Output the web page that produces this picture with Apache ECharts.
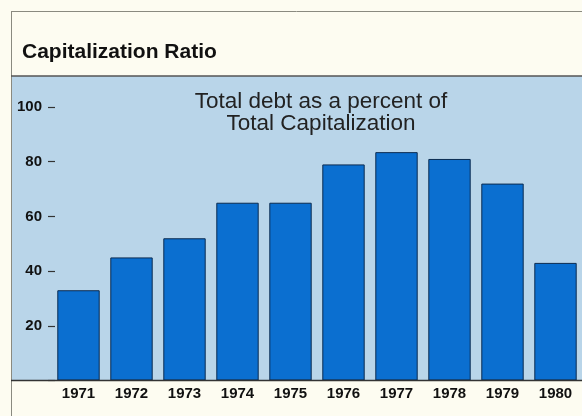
<!DOCTYPE html>
<html>
<head>
<meta charset="utf-8">
<script src="https://cdn.jsdelivr.net/npm/echarts@6/dist/echarts.min.js"></script>
<style>
  html, body { margin: 0; padding: 0; background: #fdfcf1; }
  #chart { width: 582px; height: 416px; }
</style>
</head>
<body>
<div id="chart"></div>
<script>
// Debt as a share of total capitalization, by year
const years = ['1971', '1972', '1973', '1974', '1975', '1976', '1977', '1978', '1979', '1980'];
const debtPercent = [33, 45, 52, 65, 65, 79, 83.5, 81, 72, 43];
const yTicks = [0, 20, 40, 60, 80, 100];

const FONT = '"Liberation Sans", Arial, sans-serif';
const chart = echarts.init(document.getElementById('chart'));

chart.setOption({
  backgroundColor: '#fdfcf1',
  animation: false,
  graphic: [
    // light blue panel behind the bars
    { type: 'rect', z: -10, shape: { x: 12, y: 76, width: 571, height: 304 },
      style: { fill: '#b9d5e9' } },
    // frame lines
    { type: 'line', z: 10, shape: { x1: 11, y1: 11.5, x2: 582, y2: 11.5 },
      style: { stroke: '#8a8a80', lineWidth: 1 } },
    { type: 'line', z: 10, shape: { x1: 11.5, y1: 11, x2: 11.5, y2: 416 },
      style: { stroke: '#8a8a80', lineWidth: 1 } },
    { type: 'line', z: 10, shape: { x1: 11, y1: 76, x2: 582, y2: 76 },
      style: { stroke: '#555', lineWidth: 1.5 } },
    { type: 'line', z: 10, shape: { x1: 11, y1: 380.5, x2: 582, y2: 380.5 },
      style: { stroke: '#333', lineWidth: 1.5 } },
    // headings
    { type: 'text', z: 10,
      style: { x: 22, y: 52, text: 'Capitalization Ratio', fill: '#111',
               textAlign: 'left', textVerticalAlign: 'middle',
               font: 'bold 21px ' + FONT } },
    { type: 'text', z: 10,
      style: { x: 321, y: 102, text: 'Total debt as a percent of', fill: '#222',
               textAlign: 'center', textVerticalAlign: 'middle',
               font: '22.5px ' + FONT } },
    { type: 'text', z: 10,
      style: { x: 321, y: 124, text: 'Total Capitalization', fill: '#222',
               textAlign: 'center', textVerticalAlign: 'middle',
               font: '22.5px ' + FONT } }
  ],
  grid: { left: 52, top: 107, width: 538, bottom: 35.5, containLabel: false },
  xAxis: {
    type: 'category',
    data: years,
    axisLine: { show: false },
    axisTick: { show: false },
    axisLabel: {
      color: '#111', fontWeight: 'bold', fontSize: 15, margin: 6,
      fontFamily: FONT
    }
  },
  yAxis: {
    type: 'value',
    min: yTicks[0],
    max: yTicks[yTicks.length - 1],
    interval: 20,
    offset: -3,
    splitLine: { show: false },
    axisLine: { show: false },
    axisTick: { show: true, length: 7, lineStyle: { color: '#333', width: 1.2 } },
    axisLabel: {
      color: '#111', fontWeight: 'bold', fontSize: 15, margin: 13,
      fontFamily: FONT,
      formatter: v => (v === 0 ? '' : String(v))
    }
  },
  series: [{
    type: 'bar',
    data: debtPercent,
    barCategoryGap: '20%',
    itemStyle: { color: '#0b6fd0', borderColor: '#0b2b50', borderWidth: 1 }
  }]
});
</script>
</body>
</html>
